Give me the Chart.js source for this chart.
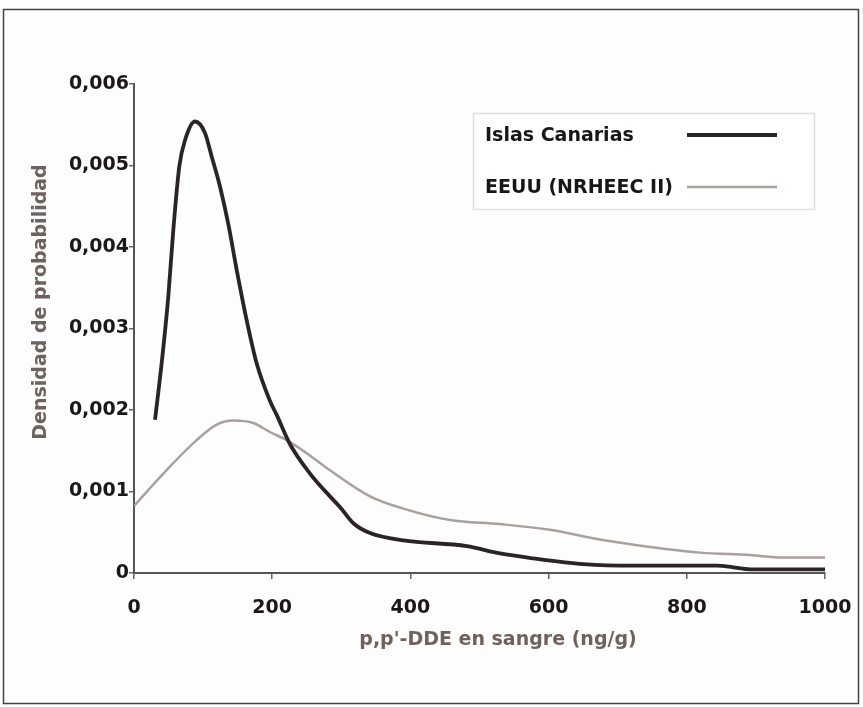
<!DOCTYPE html>
<html>
<head>
<meta charset="utf-8">
<script src="https://cdn.jsdelivr.net/npm/chart.js@4/dist/chart.umd.min.js"></script>
<style>
html,body{margin:0;padding:0;background:#fdfdfd;}
#wrap{width:863px;height:707px;position:relative;}
</style>
</head>
<body>
<div id="wrap"><canvas id="c" width="863" height="707"></canvas></div>
<script>
// ---- data ----
const canariasX = [30.4, 40.1, 49.6, 56.9, 65.6, 73.8, 88.3, 102.7, 112.4, 124.5, 136.5, 148.6, 163.1, 177.6, 196.8, 206.5, 225.8, 254.7, 283.6, 298, 317.4, 341.5, 389.7, 481.5, 529.7, 577.9, 650.2, 722.6, 843.3, 867, 891.5, 1000];
const canariasY = [0.00188, 0.00258, 0.00339, 0.00421, 0.00499, 0.00531, 0.00554, 0.0054, 0.00511, 0.00474, 0.00428, 0.00372, 0.0031, 0.00257, 0.00211, 0.00194, 0.00158, 0.00122, 0.00094, 0.00081, 0.00061, 0.00049, 0.0004, 0.00033, 0.00024, 0.00018, 0.00011, 0.00009, 0.00009, 0.00007, 0.000045, 0.000045];
const eeuuX = [0, 42.4, 90.7, 119.7, 143.7, 172.6, 196.8, 221, 249.9, 283.6, 341.5, 389.7, 457.3, 529.7, 602, 674.4, 746.7, 819, 891.5, 939, 1000];
const eeuuY = [0.00082, 0.00122, 0.00163, 0.00182, 0.00187, 0.00184, 0.00173, 0.00163, 0.00147, 0.00126, 0.00094, 0.00079, 0.00065, 0.0006, 0.00053, 0.00041, 0.00032, 0.00025, 0.00022, 0.00019, 0.00019];
const seriesLabels = ["Islas Canarias", "EEUU (NRHEEC II)"];
const xTitle = "p,p'-DDE en sangre (ng/g)";
const yTitle = "Densidad de probabilidad";
const xTicks = [0, 200, 400, 600, 800, 1000];
const yTicks = [0, 0.001, 0.002, 0.003, 0.004, 0.005, 0.006];

const toPts = (xs, ys) => xs.map((x, i) => ({x: x, y: ys[i]}));

const FONT = "'DejaVu Sans', Verdana, sans-serif";

const decorPlugin = {
  id: 'decor',
  beforeDraw(chart) {
    const ctx = chart.ctx;
    ctx.save();
    ctx.strokeStyle = '#444';
    ctx.lineWidth = 1.5;
    ctx.strokeRect(3.5, 9.5, 855, 694);
    ctx.restore();
  },
  afterDraw(chart) {
    const ctx = chart.ctx;
    ctx.save();
    // axis titles
    ctx.fillStyle = '#6e625e';
    ctx.font = "bold 19px " + FONT;
    ctx.textAlign = 'center';
    ctx.textBaseline = 'middle';
    ctx.fillText(xTitle, 498, 640);
    ctx.save();
    ctx.translate(41, 302);
    ctx.rotate(-Math.PI / 2);
    ctx.fillText(yTitle, 0, 0);
    ctx.restore();
    // legend box
    ctx.fillStyle = '#ffffff';
    ctx.fillRect(473, 113, 342, 97);
    ctx.strokeStyle = '#e2dedc';
    ctx.lineWidth = 1.5;
    ctx.strokeRect(473.5, 113.5, 341, 96);
    const rows = [136, 188];
    chart.data.datasets.forEach((ds, i) => {
      ctx.fillStyle = '#1a1616';
      ctx.font = "bold 19px " + FONT;
      ctx.textAlign = 'left';
      ctx.textBaseline = 'middle';
      ctx.fillText(ds.label, 485, rows[i]);
      ctx.strokeStyle = ds.borderColor;
      ctx.lineWidth = ds.borderWidth;
      ctx.beginPath();
      ctx.moveTo(687, rows[i] - 1);
      ctx.lineTo(777, rows[i] - 1);
      ctx.stroke();
    });
    ctx.restore();
  }
};

new Chart(document.getElementById('c'), {
  type: 'line',
  data: {
    datasets: [
      {
        label: seriesLabels[0],
        data: toPts(canariasX, canariasY),
        borderColor: '#2b2325',
        borderWidth: 3.8,
        pointRadius: 0,
        fill: false,
        cubicInterpolationMode: 'monotone'
      },
      {
        label: seriesLabels[1],
        data: toPts(eeuuX, eeuuY),
        borderColor: '#aaa09e',
        borderWidth: 2.5,
        pointRadius: 0,
        fill: false,
        cubicInterpolationMode: 'monotone'
      }
    ]
  },
  plugins: [decorPlugin],
  options: {
    responsive: false,
    animation: false,
    layout: { padding: { left: 0, top: 84, right: 38, bottom: 34 } },
    plugins: { legend: { display: false }, tooltip: { enabled: false } },
    scales: {
      x: {
        type: 'linear',
        min: 0, max: 1000,
        afterBuildTicks: s => { s.ticks = xTicks.map(v => ({value: v})); },
        afterFit: s => { s.height = 100; s.paddingRight = 0; },
        grid: { drawOnChartArea: false, drawTicks: true, tickLength: 6, color: '#666', lineWidth: 1.5 },
        border: { display: true, color: '#555', width: 2 },
        ticks: {
          color: '#1c1818',
          font: { family: FONT, size: 19, weight: 'bold' },
          padding: 18,
          maxRotation: 0,
          callback: v => String(v)
        }
      },
      y: {
        type: 'linear',
        min: 0, max: 0.006,
        afterBuildTicks: s => { s.ticks = yTicks.map(v => ({value: v})); },
        afterFit: s => { s.width = 134; },
        grid: { drawOnChartArea: false, drawTicks: true, tickLength: 5, color: '#666', lineWidth: 1.5 },
        border: { display: true, color: '#555', width: 2 },
        ticks: {
          color: '#1c1818',
          font: { family: FONT, size: 19, weight: 'bold' },
          padding: 0,
          callback: v => v === 0 ? '0' : v.toFixed(3).replace('.', ',')
        }
      }
    }
  }
});
</script>
</body>
</html>
